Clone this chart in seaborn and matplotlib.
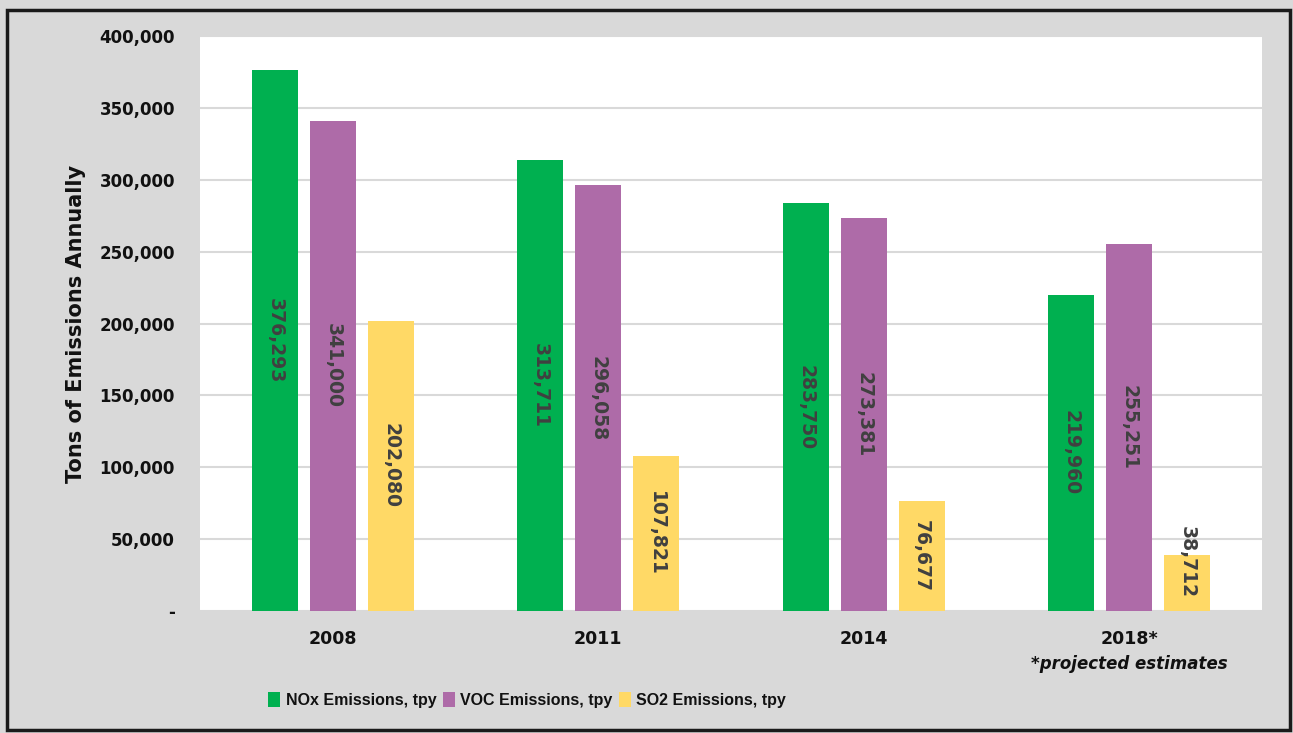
import pandas as pd
import matplotlib.pyplot as plt
import seaborn as sns
from matplotlib.patches import Rectangle
from matplotlib.ticker import FuncFormatter

years = ["2008", "2011", "2014", "2018*"]
nox = [376293, 313711, 283750, 219960]
voc = [341000, 296058, 273381, 255251]
so2 = [202080, 107821, 76677, 38712]
series = ["NOx Emissions, tpy", "VOC Emissions, tpy", "SO2 Emissions, tpy"]
colors = ["#00b050", "#ae6ba8", "#ffd966"]

df = pd.DataFrame({
    "year": years * 3,
    "tons": nox + voc + so2,
    "series": [series[0]] * 4 + [series[1]] * 4 + [series[2]] * 4,
})

sns.set_theme(style="white")
plt.rcParams["font.family"] = ["DejaVu Sans"]
plt.rcParams["text.color"] = "#111111"
plt.rcParams["xtick.color"] = "#111111"
plt.rcParams["ytick.color"] = "#111111"
plt.rcParams["axes.labelcolor"] = "#111111"

fig = plt.figure(figsize=(12.93, 7.33), dpi=100)
fig.patch.set_facecolor("#d9d9d9")
ax = fig.add_axes([0.1547, 0.1664, 0.8213, 0.7845])
ax.set_facecolor("white")

sns.barplot(data=df, x="year", y="tons", hue="series", palette=colors,
            width=0.655, gap=0.2, saturation=1, linewidth=0, ax=ax, legend=True)

ax.set_ylim(0, 400000)
ax.set_xlim(-0.5, 3.5)
ax.set_yticks(range(0, 400001, 50000))
ax.yaxis.set_major_formatter(FuncFormatter(lambda v, p: "-" if v == 0 else f"{int(v):,}"))
ax.grid(axis="y", color="#d9d9d9", lw=1.5)
ax.set_axisbelow(True)
for s in ax.spines.values():
    s.set_visible(False)
ax.tick_params(axis="both", length=0, labelsize=12)
ax.tick_params(axis="y", pad=18)
ax.tick_params(axis="x", pad=14, labelsize=12.5)
for t in ax.get_xticklabels() + ax.get_yticklabels():
    t.set_fontweight("bold")
ax.set_xlabel("")
ax.set_ylabel("Tons of Emissions Annually", fontsize=15, fontweight="bold", labelpad=10)

# rotated value labels inside the bars
for cont in ax.containers:
    for bar in cont:
        h = bar.get_height()
        ypos = max(h / 2, 34000)
        ax.text(bar.get_x() + bar.get_width() / 2, ypos, f"{int(h):,}",
                rotation=-90, ha="center", va="center", fontsize=13.5,
                fontweight="bold", color="#404040")

ax.text(3, -0.077, "*projected estimates", transform=ax.get_xaxis_transform(),
        ha="center", va="top", fontsize=12, fontweight="bold", style="italic")

leg = ax.legend(loc="center", bbox_to_anchor=(527 / 1293, 33 / 733),
                bbox_transform=fig.transFigure, ncol=3, frameon=False,
                handlelength=0.75, handleheight=1.1, handletextpad=0.35,
                columnspacing=0.4, prop={"weight": "bold", "size": 11.5,
                                         "family": ["Liberation Sans Narrow", "Liberation Sans"]})

fig.add_artist(Rectangle((7 / 1293, 3 / 733), 1283 / 1293, 720 / 733,
                         transform=fig.transFigure, fill=False,
                         edgecolor="#1a1a1a", lw=2.5))

fig.savefig("out.png", dpi=100, facecolor=fig.get_facecolor())
